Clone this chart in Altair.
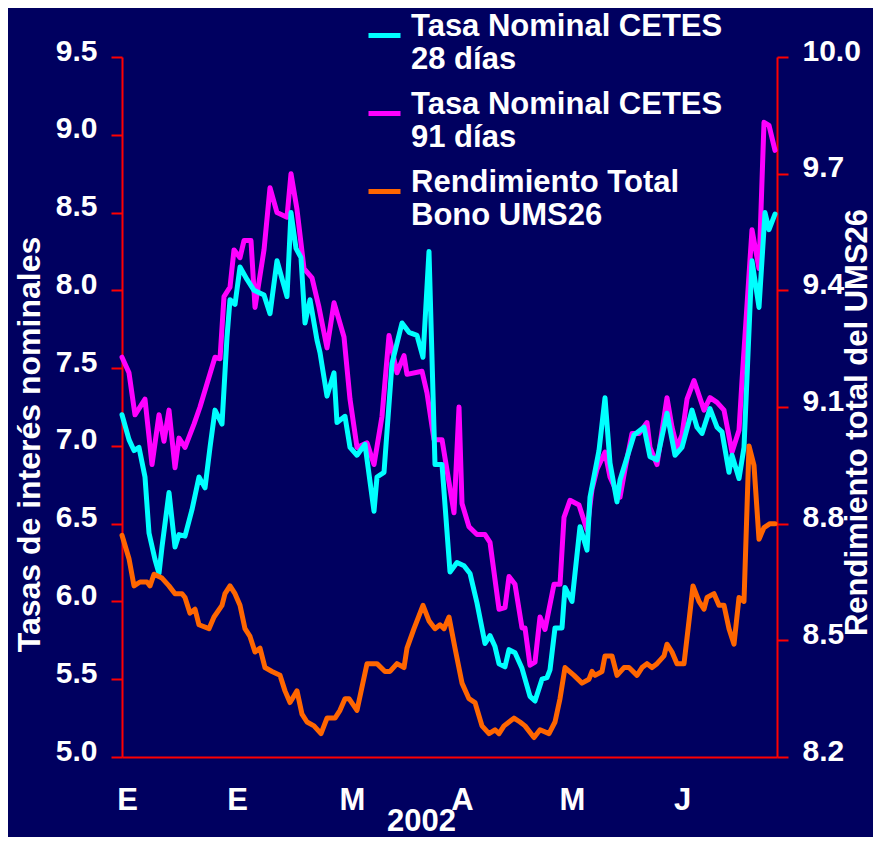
import altair as alt
import pandas as pd

# ---- data (x = business day since start of 2002) ----
dia_28 = [0, 1.4, 2.4, 3.4, 4.6, 5.4, 6.6, 7.4, 8, 9.4, 10.6, 11.4, 12.6, 14, 15.4, 16.6, 17.6, 18.6, 20, 21,
          21.6, 22.6, 23.6, 25, 26.4, 28.4, 29.6, 31, 33, 33.8, 34.8, 35.8, 36.6, 37.6, 39, 39.6, 41, 42.4, 43, 44.6,
          45.6, 47, 48.6, 50.4, 51, 52.4, 54, 56, 57.4, 59, 60.2, 61.4, 62.6, 64, 65.6, 67, 68.4, 69.6, 71, 72.6,
          73.6, 74.6, 75.4, 76.6, 77.4, 78.6, 80, 81.6, 82.6, 84, 85, 85.6, 86.6, 88, 88.6, 90, 91.6, 93, 93.6, 95.4,
          96.6, 97.6, 99, 99.6, 102.4, 104.4, 105.6, 107, 109, 110.6, 112, 114, 115, 116, 117.6, 119, 120, 121.4, 122,
          123.4, 124.4, 126, 127.4, 128.6, 129.4, 130.6]
cetes_28 = [7.20, 7.04, 6.97, 6.99, 6.80, 6.44, 6.27, 6.18, 6.35, 6.70, 6.35, 6.43, 6.42, 6.59, 6.80, 6.73, 6.99,
            7.23, 7.14, 7.70, 7.94, 7.91, 8.15, 8.07, 8.00, 7.97, 7.85, 8.19, 7.96, 8.50, 8.27, 8.21, 7.79, 7.94,
            7.68, 7.60, 7.32, 7.47, 7.15, 7.19, 6.99, 6.94, 7.01, 6.58, 6.80, 6.83, 7.53, 7.79, 7.73, 7.71, 7.57,
            8.25, 6.88, 6.88, 6.19, 6.25, 6.23, 6.18, 5.99, 5.73, 5.78, 5.71, 5.60, 5.58, 5.69, 5.67, 5.57, 5.39,
            5.36, 5.50, 5.51, 5.56, 5.83, 5.83, 6.09, 6.00, 6.48, 6.33, 6.67, 6.97, 7.31, 6.89, 6.64, 6.78, 7.07,
            7.12, 6.93, 6.91, 7.21, 6.94, 6.99, 7.23, 7.12, 7.08, 7.24, 7.12, 7.09, 6.83, 6.94, 6.79, 6.99, 8.19,
            7.89, 8.50, 8.39, 8.49]

dia_91 = [0, 1.4, 2.6, 4.6, 6, 7.4, 8.4, 9.4, 10.6, 11.4, 12.6, 14.4, 15.6, 17, 18.6, 19.6, 20.4, 21.6, 22.4, 23.6,
          24.4, 25.8, 26.6, 28.4, 29.6, 31, 33, 33.8, 35, 36.4, 38, 39.4, 41, 42.4, 44.4, 45.6, 47, 49, 50.4, 52,
          53.4, 55, 56.4, 57, 60, 61, 62.4, 64, 66.4, 67.4, 68, 69.4, 71, 72.6, 73.6, 75.4, 76.6, 77.4, 78.6, 80,
          80.6, 81.6, 82.6, 83.6, 84.6, 86.4, 87.6, 88.4, 89.6, 91.4, 93, 94, 95, 96.6, 97.6, 99, 99.6, 100.6, 102,
          103.4, 105, 105.6, 107, 109, 110, 111, 112, 113, 114.4, 116.4, 117.6, 119, 120.4, 122, 123.4, 124, 126,
          127.4, 128.4, 129.4, 130.6]
cetes_91 = [7.57, 7.47, 7.20, 7.30, 6.88, 7.20, 7.03, 7.23, 6.86, 7.05, 6.99, 7.14, 7.25, 7.40, 7.57, 7.56, 7.96,
            8.02, 8.26, 8.21, 8.32, 8.32, 7.89, 8.26, 8.66, 8.50, 8.47, 8.75, 8.52, 8.14, 8.08, 7.89, 7.63, 7.92,
            7.70, 7.30, 6.99, 7.02, 6.88, 7.19, 7.71, 7.47, 7.58, 7.46, 7.48, 7.34, 7.04, 7.04, 6.57, 7.25, 6.63,
            6.48, 6.43, 6.43, 6.38, 5.95, 5.96, 6.16, 6.11, 5.83, 5.83, 5.59, 5.61, 5.90, 5.82, 6.11, 6.11, 6.54,
            6.65, 6.62, 6.46, 6.72, 6.85, 6.96, 6.80, 6.70, 6.67, 6.85, 7.08, 7.08, 7.15, 6.99, 6.88, 7.31, 7.12,
            6.99, 7.07, 7.30, 7.42, 7.23, 7.31, 7.28, 7.23, 6.96, 7.10, 7.42, 8.39, 8.14, 9.08, 9.06, 8.90]

dia_ums = [0, 1.4, 2.4, 3.6, 5, 5.6, 6.4, 8, 9.4, 10.6, 12, 12.6, 13.6, 14.6, 15.4, 17.4, 18.4, 20, 20.6, 21.6,
           22.6, 23.6, 24.6, 25.6, 26.6, 27.6, 28.6, 30, 31.6, 32.6, 33.6, 35, 36, 37, 38.4, 39.8, 41, 42.6, 43.6,
           44.6, 45.4, 47, 48, 49, 51, 52.6, 53.6, 55, 56.4, 57, 58.4, 60.2, 61.4, 62.6, 63.6, 64.4, 65.4, 66.6, 68,
           69.4, 70.6, 72, 73.4, 74.6, 75.4, 76.4, 78.4, 79.6, 80.6, 82.4, 83.6, 85.4, 86.6, 87.6, 88.6, 90.4, 92,
           93.4, 94, 94.6, 96, 96.6, 98, 99, 100.4, 101.4, 103, 104, 105, 106, 107, 108.4, 109, 110, 111, 112.4,
           113.4, 114.2, 115.4, 116.4, 117, 118.4, 119.4, 120.4, 121.4, 122.4, 123.4, 124.4, 125.4, 126.4, 127.4,
           128.4, 129.6, 130.6]
ums26 = [8.77, 8.71, 8.64, 8.65, 8.65, 8.64, 8.67, 8.66, 8.64, 8.62, 8.62, 8.61, 8.57, 8.58, 8.54, 8.53, 8.56,
         8.59, 8.62, 8.64, 8.62, 8.59, 8.53, 8.51, 8.47, 8.48, 8.43, 8.42, 8.41, 8.37, 8.34, 8.37, 8.31, 8.29, 8.28,
         8.26, 8.30, 8.30, 8.32, 8.35, 8.35, 8.32, 8.38, 8.44, 8.44, 8.42, 8.42, 8.44, 8.43, 8.48, 8.53, 8.59, 8.55,
         8.53, 8.54, 8.53, 8.56, 8.48, 8.39, 8.35, 8.34, 8.28, 8.26, 8.27, 8.26, 8.28, 8.30, 8.29, 8.28, 8.25, 8.27,
         8.26, 8.29, 8.35, 8.43, 8.41, 8.39, 8.40, 8.42, 8.41, 8.42, 8.46, 8.46, 8.41, 8.43, 8.43, 8.41, 8.43, 8.44,
         8.43, 8.44, 8.46, 8.49, 8.47, 8.44, 8.44, 8.55, 8.64, 8.60, 8.58, 8.61, 8.62, 8.59, 8.59, 8.53, 8.49, 8.61,
         8.60, 9.00, 8.95, 8.76, 8.79, 8.80, 8.80]

series = ["Tasa Nominal CETES|28 días", "Tasa Nominal CETES|91 días", "Rendimiento Total|Bono UMS26"]
colores = ["#00FFFF", "#FF00FF", "#FF6600"]

meses_pos = [1, 23, 46, 68, 90, 112]
meses = ["E", "E", "M", "A", "M", "J"]
ticks_izq = [5.0, 5.5, 6.0, 6.5, 7.0, 7.5, 8.0, 8.5, 9.0, 9.5]
ticks_der = [8.2, 8.5, 8.8, 9.1, 9.4, 9.7, 10.0]

df28 = pd.DataFrame({"dia": dia_28, "valor": cetes_28, "serie": series[0]})
df91 = pd.DataFrame({"dia": dia_91, "valor": cetes_91, "serie": series[1]})
dfums = pd.DataFrame({"dia": dia_ums, "valor": ums26, "serie": series[2]})

FONT = "Arial"
BG = "#000060"

mes_expr = " : ".join(f"datum.value == {p} ? '{m}'" for p, m in zip(meses_pos, meses)) + " : ''"

x_enc = alt.X(
    "dia:Q",
    scale=alt.Scale(domain=[0, 131], nice=False, zero=False),
    axis=alt.Axis(values=meses_pos, labelExpr=mes_expr, ticks=False, labelPadding=28,
                  labelFontSize=31, title="2002", titleX=299, titleY=73,
                  titleBaseline="alphabetic", titleAlign="center", titleFontSize=31),
)

color_enc = alt.Color(
    "serie:N",
    scale=alt.Scale(domain=series, range=colores),
    legend=alt.Legend(
        title=None, orient="none", legendX=244, legendY=-40,
        labelExpr="split(datum.label, '|')",
        labelFont=FONT, labelFontWeight="bold", labelFontSize=31, labelColor="white",
        labelBaseline="alphabetic", labelLimit=600, labelOffset=8,
        symbolType="stroke", symbolSize=1024, symbolStrokeWidth=5,
        rowPadding=13, padding=0,
    ),
)

y_left = alt.Y(
    "valor:Q",
    scale=alt.Scale(domain=[5.0, 9.5], nice=False, zero=False),
    axis=alt.Axis(orient="left", values=ticks_izq, format=".1f", labelOffset=-6,
                  title="Tasas de interés nominales", titleAngle=270, titleX=-83, titleY=387,
                  titleAlign="center", titleBaseline="alphabetic", titleFontSize=32),
)
y_right = alt.Y(
    "valor:Q",
    scale=alt.Scale(domain=[8.2, 10.0], nice=False, zero=False),
    axis=alt.Axis(orient="right", values=ticks_der, format=".1f", labelOffset=-6,
                  title="Rendimiento total del UMS26", titleAngle=270, titleX=89, titleY=365,
                  titleAlign="center", titleBaseline="alphabetic", titleFontSize=31),
)

line_kw = dict(strokeWidth=5, strokeJoin="round", strokeCap="round")

l91 = alt.Chart(df91).mark_line(**line_kw).encode(x=x_enc, y=y_left, color=color_enc)
l28 = alt.Chart(df28).mark_line(**line_kw).encode(x=x_enc, y=y_left, color=color_enc)
lums = alt.Chart(dfums).mark_line(**line_kw).encode(x=x_enc, y=y_right, color=color_enc)

izquierda = alt.layer(l91, l28)

chart = (
    alt.layer(izquierda, lums)
    .resolve_scale(y="independent")
    .properties(
        width=655, height=700,
        padding={"left": 114, "top": 49, "right": 96, "bottom": 80},
        autosize=alt.AutoSizeParams(type="none"),
        background=BG,
    )
    .configure_view(stroke="transparent")
    .configure_axis(
        grid=False,
        domainColor="#FF0000", domainWidth=2,
        tickColor="#FF0000", tickWidth=2, tickSize=11,
        labelColor="white", labelFont=FONT, labelFontWeight="bold", labelFontSize=30,
        labelPadding=14,
        titleColor="white", titleFont=FONT, titleFontWeight="bold",
    )
)

chart.save("out.html", embed_options={"renderer": "svg", "actions": False})
